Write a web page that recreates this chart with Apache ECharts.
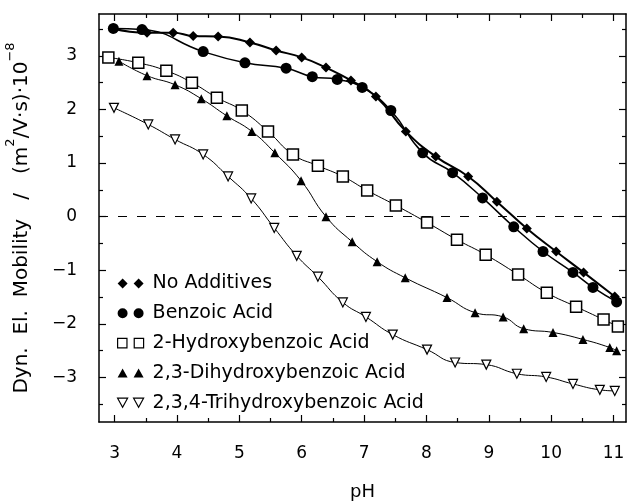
<!DOCTYPE html>
<html>
<head>
<meta charset="utf-8">
<script src="https://cdn.jsdelivr.net/npm/echarts@6/dist/echarts.min.js"></script>
<style>html,body{margin:0;padding:0;background:#fff}#c{width:627px;height:504px}</style>
</head>
<body>
<div id="c"></div>
<script>
// ---- data ----
const seriesNames = ['No Additives', 'Benzoic Acid', '2-Hydroxybenzoic Acid', '2,3-Dihydroxybenzoic Acid', '2,3,4-Trihydroxybenzoic Acid'];

const noAdditivesPH  = [2.97, 3.52, 3.94, 4.26, 4.66, 5.17, 5.59, 6.00, 6.39, 6.79, 7.19, 7.67, 8.15, 8.67, 9.13, 9.61, 10.08, 10.52, 11.02];
const noAdditivesMob = [3.51, 3.43, 3.43, 3.37, 3.36, 3.25, 3.10, 2.97, 2.78, 2.54, 2.24, 1.59, 1.12, 0.75, 0.28, -0.22, -0.65, -1.04, -1.49];

const benzoicPH  = [2.98, 3.44, 4.42, 5.09, 5.75, 6.17, 6.57, 6.97, 7.43, 7.94, 8.42, 8.90, 9.40, 9.87, 10.35, 10.67, 11.05];
const benzoicMob = [3.51, 3.49, 3.08, 2.87, 2.77, 2.61, 2.56, 2.41, 1.98, 1.19, 0.82, 0.35, -0.19, -0.65, -1.04, -1.32, -1.59];

const hydroxyPH  = [2.90, 3.38, 3.83, 4.24, 4.64, 5.04, 5.46, 5.86, 6.26, 6.66, 7.05, 7.51, 8.01, 8.49, 8.95, 9.47, 9.93, 10.40, 10.84, 11.07];
const hydroxyMob = [2.97, 2.87, 2.72, 2.50, 2.22, 1.98, 1.59, 1.16, 0.95, 0.75, 0.49, 0.21, -0.11, -0.43, -0.71, -1.08, -1.42, -1.68, -1.92, -2.05];

const dihydroxyPH  = [3.07, 3.52, 3.97, 4.39, 4.80, 5.20, 5.57, 5.99, 6.39, 6.81, 7.21, 7.66, 8.33, 8.78, 9.23, 9.56, 10.03, 10.51, 10.94, 11.05];
const dihydroxyMob = [2.90, 2.63, 2.46, 2.20, 1.88, 1.59, 1.19, 0.67, 0.00, -0.47, -0.84, -1.14, -1.51, -1.79, -1.87, -2.09, -2.16, -2.29, -2.44, -2.50];

const trihydroxyPH  = [2.99, 3.54, 3.97, 4.42, 4.82, 5.19, 5.56, 5.92, 6.26, 6.66, 7.03, 7.46, 8.01, 8.46, 8.96, 9.45, 9.92, 10.35, 10.78, 11.02];
const trihydroxyMob = [2.03, 1.72, 1.44, 1.16, 0.75, 0.34, -0.21, -0.73, -1.12, -1.60, -1.87, -2.20, -2.48, -2.72, -2.76, -2.93, -2.99, -3.12, -3.23, -3.25];

const xMajorTicks = [3, 4, 5, 6, 7, 8, 9, 10, 11];
const xMinorTicks = [3.5, 4.5, 5.5, 6.5, 7.5, 8.5, 9.5, 10.5];
const yMajorTicks = [-3, -2, -1, 0, 1, 2, 3];
const yMinorTicks = [-3.5, -2.5, -1.5, -0.5, 0.5, 1.5, 2.5, 3.5];

// ---- chart ----
const FONT = 'DejaVu Sans';
const zip = (xs, ys) => xs.map((x, i) => [x, ys[i]]);
const X_MIN = 2.75, X_MAX = 11.2, Y_MIN = -3.83, Y_MAX = 3.78;

function xAx(pos, ticks, len, labels, line, extra) {
  return Object.assign({
    type: 'value', position: pos, min: X_MIN, max: X_MAX,
    axisLine: { show: line, onZero: false, lineStyle: { color: '#000', width: 1.6 } },
    axisTick: { show: true, inside: true, length: len, customValues: ticks, lineStyle: { color: '#000', width: 1.2 } },
    axisLabel: labels ? { show: true, customValues: ticks, margin: 23, color: '#000', fontFamily: FONT, fontSize: 17 } : { show: false },
    splitLine: { show: false }
  }, extra || {});
}
function yAx(pos, ticks, len, labels, line, extra) {
  return Object.assign({
    type: 'value', position: pos, min: Y_MIN, max: Y_MAX,
    axisLine: { show: line, onZero: false, lineStyle: { color: '#000', width: 1.5 } },
    axisTick: { show: true, inside: true, length: len, customValues: ticks, lineStyle: { color: '#000', width: 1.2 } },
    axisLabel: labels ? { show: true, customValues: ticks, margin: 22, color: '#000', fontFamily: FONT, fontSize: 17,
      formatter: v => String(v).replace('-', '\u2212') } : { show: false },
    splitLine: { show: false }
  }, extra || {});
}

const icons = [
  'path://M0,5L5,0L10,5L5,10Z M16,5L21,0L26,5L21,10Z',
  'path://M0,5A5,5,0,1,1,10,5A5,5,0,1,1,0,5Z M16,5A5,5,0,1,1,26,5A5,5,0,1,1,16,5Z',
  'path://M0.5,0.5L9.5,0.5L9.5,9.5L0.5,9.5Z M16.5,0.5L25.5,0.5L25.5,9.5L16.5,9.5Z',
  'path://M0,9.5L5,0.5L10,9.5Z M16,9.5L21,0.5L26,9.5Z',
  'path://M0,0.5L10,0.5L5,9.5Z M16,0.5L26,0.5L21,9.5Z'
];
const filled = { color: '#000', borderWidth: 0 };
const hollow = { color: '#fff', borderColor: '#000', borderWidth: 1.2 };
const iconStyles = [filled, filled, hollow, filled, hollow];

function lineSeries(name, data, symbol, size, lineW, style, extra) {
  return Object.assign({
    name, type: 'line', data, smooth: 0.5, symbol, symbolSize: size,
    xAxisIndex: 0, yAxisIndex: 0,
    lineStyle: { color: '#000', width: lineW },
    itemStyle: style, emphasis: { disabled: true }, z: 3
  }, extra || {});
}

const chart = echarts.init(document.getElementById('c'), null, { renderer: 'canvas' });
chart.setOption({
  animation: false,
  backgroundColor: '#fff',
  textStyle: { fontFamily: FONT },
  grid: { left: 99, top: 14, width: 527, height: 408, containLabel: false, outerBoundsMode: 'none' },
  legend: {
    orient: 'vertical', left: 112, top: 269, itemWidth: 26, itemHeight: 10, itemGap: 10.8,
    textStyle: { color: '#000', fontFamily: FONT, fontSize: 19, lineHeight: 18, padding: [0, 0, 0, 4] },
    data: seriesNames.map((n, i) => ({ name: n, icon: icons[i], itemStyle: iconStyles[i] })),
    selectedMode: false
  },
  xAxis: [
    xAx('bottom', xMajorTicks, 7, true, true, {
      name: 'pH', nameLocation: 'middle', nameGap: 61,
      nameTextStyle: { color: '#000', fontFamily: FONT, fontSize: 18 }
    }),
    xAx('bottom', xMinorTicks, 4, false, false),
    xAx('top', xMajorTicks, 7, false, true),
    xAx('top', xMinorTicks, 4, false, false)
  ],
  yAxis: [
    yAx('left', yMajorTicks, 7, true, true, {
      name: '{a|Dyn.  El.  Mobility   /   (m}{s|2}{a|/V\u00B7s)\u00B710}{s|\u22128}',
      nameLocation: 'middle', nameGap: 67, nameRotate: 90,
      nameTextStyle: {
        color: '#000', fontFamily: FONT,
        rich: {
          a: { fontFamily: FONT, fontSize: 20, color: '#000', lineHeight: 28, verticalAlign: 'bottom' },
          s: { fontFamily: FONT, fontSize: 13, color: '#000', lineHeight: 28, verticalAlign: 'top' }
        }
      }
    }),
    yAx('left', yMinorTicks, 4, false, false),
    yAx('right', yMajorTicks, 7, false, true),
    yAx('right', yMinorTicks, 4, false, false)
  ],
  series: [
    lineSeries(seriesNames[0], zip(noAdditivesPH, noAdditivesMob), 'diamond', 10, 2, filled, {
      markLine: {
        silent: true, symbol: 'none', label: { show: false },
        lineStyle: { color: '#000', width: 1, type: [9, 10] },
        data: [{ yAxis: 0 }]
      }
    }),
    lineSeries(seriesNames[1], zip(benzoicPH, benzoicMob), 'circle', 11, 1.5, filled),
    lineSeries(seriesNames[2], zip(hydroxyPH, hydroxyMob), 'rect', 11, 1, { color: '#fff', borderColor: '#000', borderWidth: 1.5 }),
    lineSeries(seriesNames[3], zip(dihydroxyPH, dihydroxyMob), 'triangle', 9, 1, filled),
    lineSeries(seriesNames[4], zip(trihydroxyPH, trihydroxyMob), 'triangle', 9, 1,
      { color: '#fff', borderColor: '#000', borderWidth: 1.2 }, { symbolRotate: 180 })
  ]
});
</script>
</body>
</html>
